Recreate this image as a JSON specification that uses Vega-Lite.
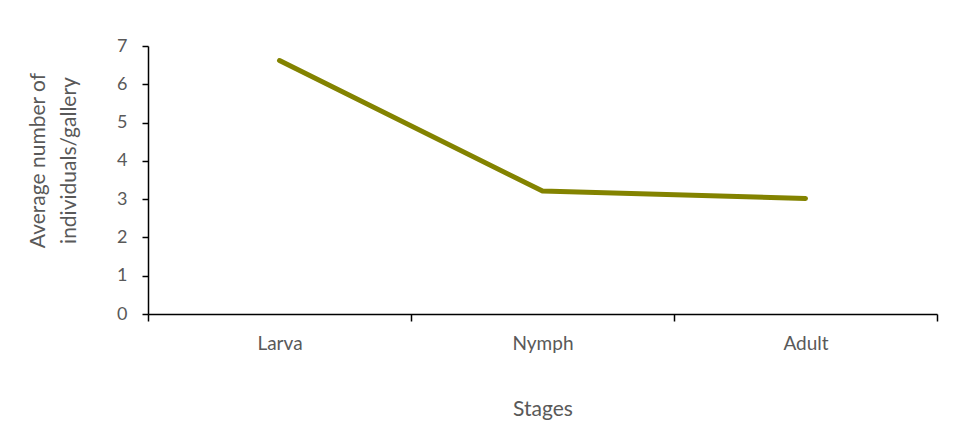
{
  "$schema": "https://vega.github.io/schema/vega-lite/v6.json",
  "autosize": {"type": "none"},
  "padding": {"left": 148, "top": 46, "right": 25, "bottom": 124},
  "width": 789,
  "height": 268,
  "background": "white",
  "config": {
    "view": {"stroke": null},
    "font": "Lato",
    "axis": {"labelFont": "Lato", "titleFont": "Lato", "labelColor": "#595959", "titleColor": "#595959", "titleFontWeight": "normal", "domainColor": "#000000", "tickColor": "#000000", "domainWidth": 1.5, "tickWidth": 1.5, "grid": false}
  },
  "data": {"values": [
    {"stage": "Larva", "value": 6.62},
    {"stage": "Nymph", "value": 3.21},
    {"stage": "Adult", "value": 3.02}
  ]},
  "mark": {"type": "line", "color": "#838300", "strokeWidth": 5, "strokeCap": "round", "strokeJoin": "round"},
  "encoding": {
    "x": {"field": "stage", "type": "nominal", "sort": ["Larva", "Nymph", "Adult"],
      "scale": {"type": "band", "paddingInner": 0, "paddingOuter": 0},
      "axis": {"title": "Stages", "labelAngle": 0, "labelFontSize": 19, "titleFontSize": 21, "tickBand": "extent", "tickSize": 7, "labelPadding": 13, "titlePadding": 45}},
    "y": {"field": "value", "type": "quantitative",
      "scale": {"domain": [0, 7], "nice": false},
      "axis": {"title": ["Average number of", "individuals/gallery"], "values": [0,1,2,3,4,5,6,7], "labelFontSize": 18, "titleFontSize": 21, "titleLineHeight": 31, "tickSize": 6, "labelPadding": 15, "titlePadding": 37, "titleY": 114}}
  }
}
